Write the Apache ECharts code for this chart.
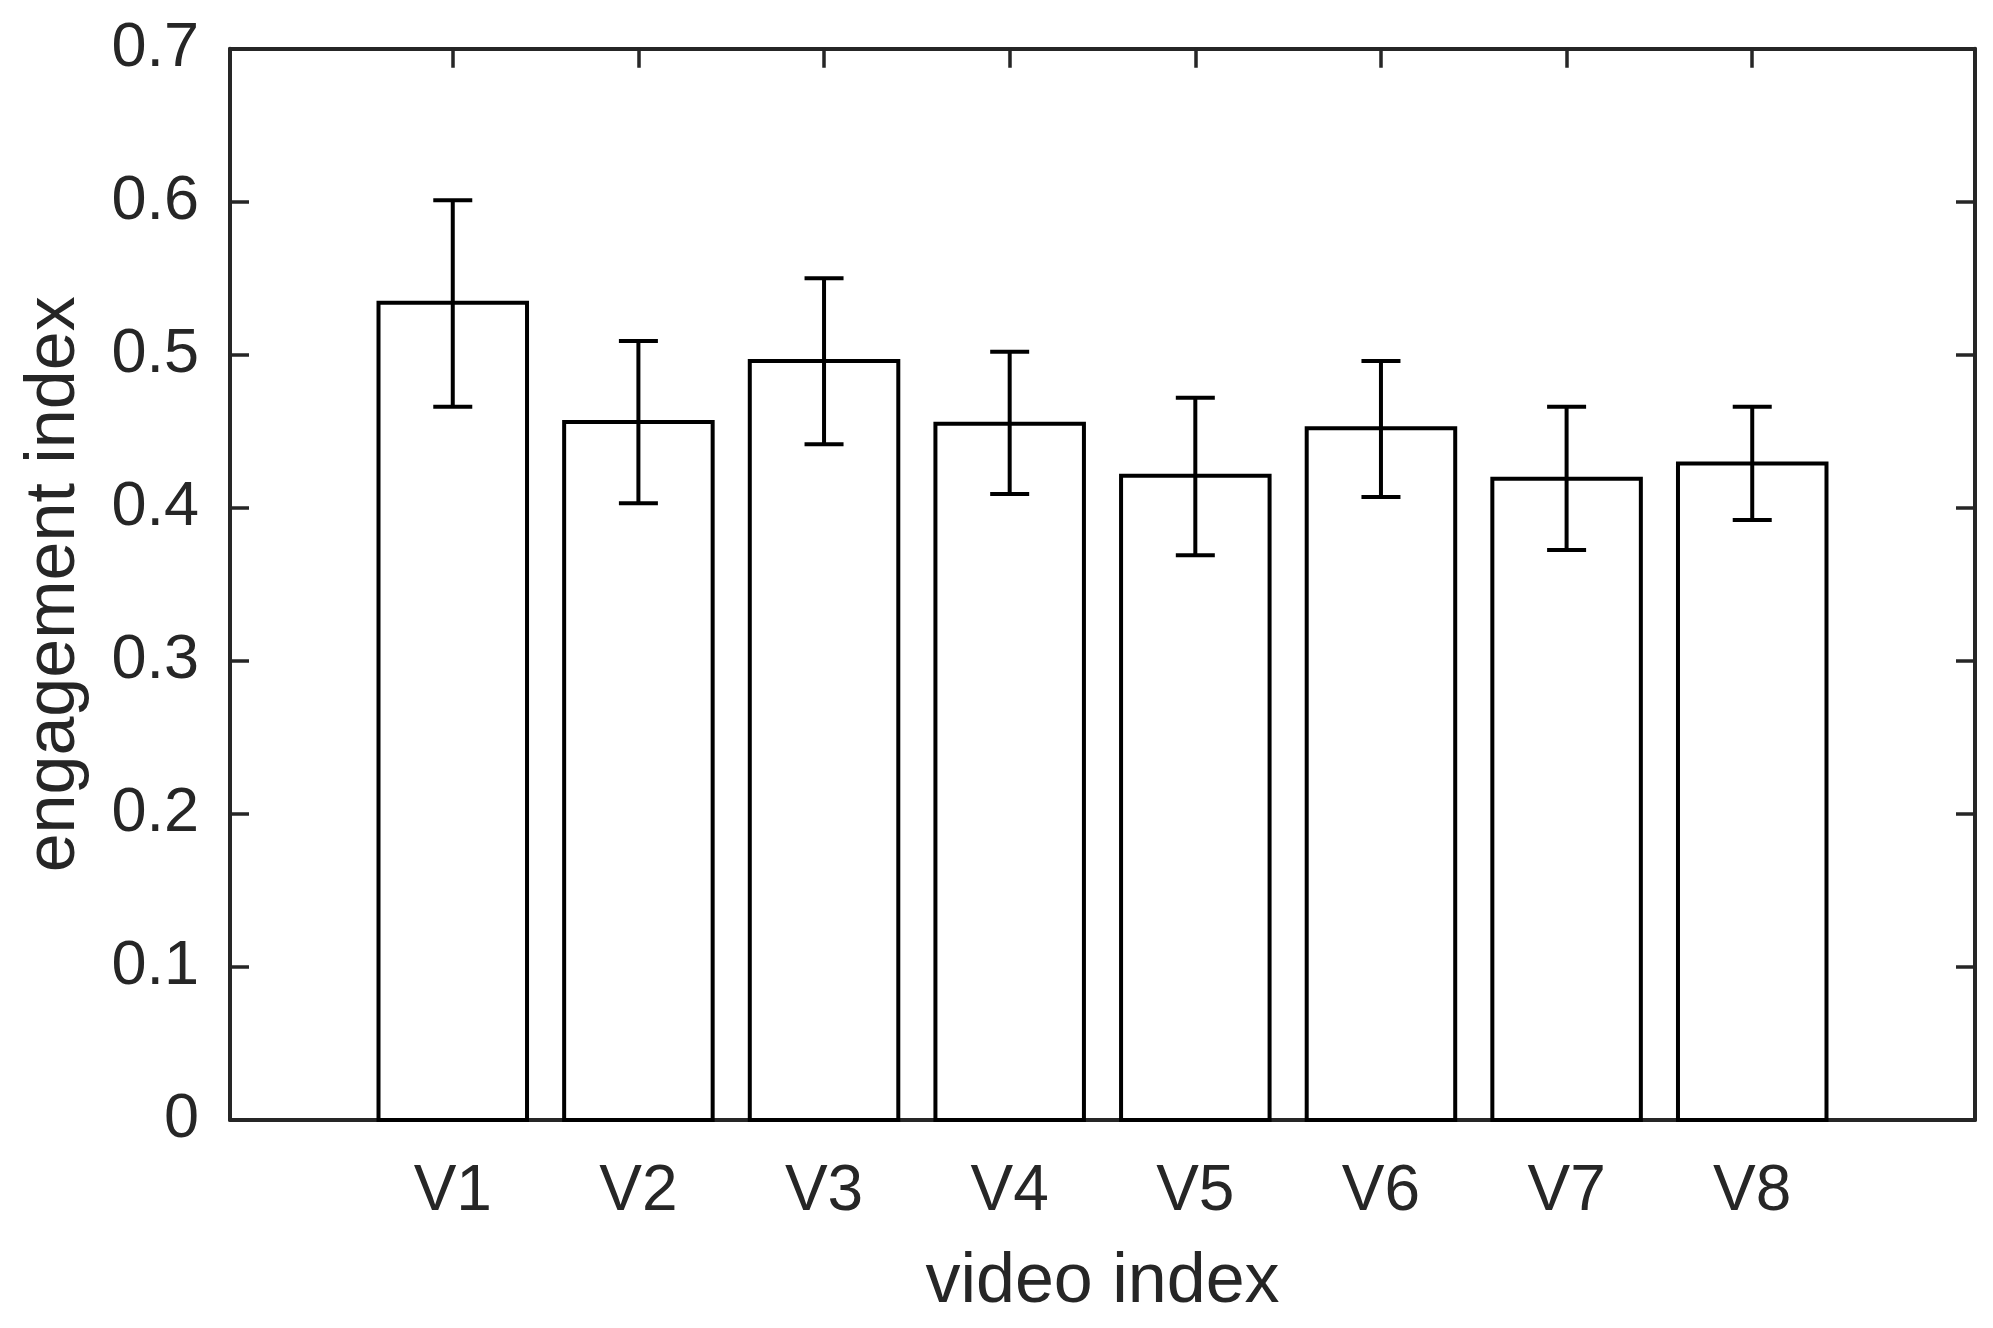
<!DOCTYPE html>
<html>
<head>
<meta charset="utf-8">
<script src="https://cdn.jsdelivr.net/npm/echarts@6/dist/echarts.min.js"></script>
<style>
html,body{margin:0;padding:0;background:#fff;}
#chart{width:1993px;height:1328px;}
</style>
</head>
<body>
<div id="chart"></div>
<script>
// ---- data ----
const categories = ['V1', 'V2', 'V3', 'V4', 'V5', 'V6', 'V7', 'V8'];
const positions = [1, 2, 3, 4, 5, 6, 7, 8];
const means = [0.534, 0.456, 0.496, 0.455, 0.421, 0.452, 0.419, 0.429];
const errLow = [0.466, 0.403, 0.4415, 0.409, 0.369, 0.407, 0.3725, 0.392];
const errHigh = [0.601, 0.509, 0.550, 0.502, 0.472, 0.496, 0.466, 0.466];
const yTicks = [0, 0.1, 0.2, 0.3, 0.4, 0.5, 0.6, 0.7];
const xAxisTitle = 'video index';
const yAxisTitle = 'engagement index';

const FONT = 'Liberation Sans, Arial, Helvetica, sans-serif';
const AXIS_COLOR = '#262626';
const BAR_WIDTH = 0.8;
const CAP_HALF = 19.5;

const barData = positions.map((p, i) => [p, means[i]]);
const errData = positions.map((p, i) => [p, errLow[i], errHigh[i]]);

const chart = echarts.init(document.getElementById('chart'), null, {renderer: 'canvas'});

const xCommon = {
  type: 'value', min: -0.2, max: 9.2,
  splitLine: {show: false},
  axisLine: {show: true, onZero: false, lineStyle: {color: AXIS_COLOR, width: 4}},
  axisTick: {show: true, inside: true, length: 19, customValues: positions, lineStyle: {color: AXIS_COLOR, width: 3.5}}
};
const yCommon = {
  type: 'value', min: 0, max: 0.7, interval: 0.1,
  splitLine: {show: false},
  axisLine: {show: true, onZero: false, lineStyle: {color: AXIS_COLOR, width: 4}},
  axisTick: {show: true, inside: true, length: 19, lineStyle: {color: AXIS_COLOR, width: 3.5}}
};

chart.setOption({
  animation: false,
  backgroundColor: '#ffffff',
  textStyle: {fontFamily: FONT},
  grid: {left: 230, right: 18, top: 48.7, bottom: 208, containLabel: false},
  xAxis: [
    Object.assign({}, xCommon, {
      position: 'bottom',
      name: xAxisTitle, nameLocation: 'middle', nameGap: 128,
      nameTextStyle: {fontSize: 70, color: AXIS_COLOR, fontFamily: FONT, lineHeight: 70},
      axisLabel: {
        show: true, customValues: positions, margin: 40,
        fontSize: 64, color: AXIS_COLOR, fontFamily: FONT, lineHeight: 64,
        formatter: v => categories[positions.indexOf(Math.round(v))] || ''
      }
    }),
    Object.assign({}, xCommon, {position: 'top', axisLabel: {show: false}})
  ],
  yAxis: [
    Object.assign({}, yCommon, {
      position: 'left',
      name: yAxisTitle, nameLocation: 'middle', nameGap: 140, nameRotate: 90,
      nameTextStyle: {fontSize: 70, color: AXIS_COLOR, fontFamily: FONT, lineHeight: 70},
      axisLabel: {
        show: true, margin: 31, fontSize: 63, color: AXIS_COLOR, fontFamily: FONT,
        padding: [8, 0, 0, 0],
        formatter: v => {
          const t = yTicks.find(k => Math.abs(k - v) < 1e-9);
          return t === 0 ? '0' : (t !== undefined ? t.toFixed(1) : '');
        }
      }
    }),
    Object.assign({}, yCommon, {position: 'right', axisLabel: {show: false}})
  ],
  series: [
    {
      type: 'custom', xAxisIndex: 0, yAxisIndex: 0,
      data: barData,
      encode: {x: 0, y: 1},
      renderItem: function (params, api) {
        const x = api.value(0), y = api.value(1);
        const p1 = api.coord([x - BAR_WIDTH / 2, y]);
        const p2 = api.coord([x + BAR_WIDTH / 2, 0]);
        return {
          type: 'rect',
          shape: {x: p1[0], y: p1[1], width: p2[0] - p1[0], height: p2[1] - p1[1]},
          style: {fill: '#ffffff', stroke: '#000000', lineWidth: 4}
        };
      },
      z: 2
    },
    {
      type: 'custom', xAxisIndex: 0, yAxisIndex: 0,
      data: errData,
      encode: {x: 0, y: [1, 2]},
      renderItem: function (params, api) {
        const x = api.value(0);
        const lo = api.coord([x, api.value(1)]);
        const hi = api.coord([x, api.value(2)]);
        const st = {stroke: '#000000', lineWidth: 4};
        return {
          type: 'group',
          children: [
            {type: 'line', shape: {x1: lo[0], y1: lo[1], x2: hi[0], y2: hi[1]}, style: st},
            {type: 'line', shape: {x1: hi[0] - CAP_HALF, y1: hi[1], x2: hi[0] + CAP_HALF, y2: hi[1]}, style: st},
            {type: 'line', shape: {x1: lo[0] - CAP_HALF, y1: lo[1], x2: lo[0] + CAP_HALF, y2: lo[1]}, style: st}
          ]
        };
      },
      z: 3
    }
  ]
});
</script>
</body>
</html>
